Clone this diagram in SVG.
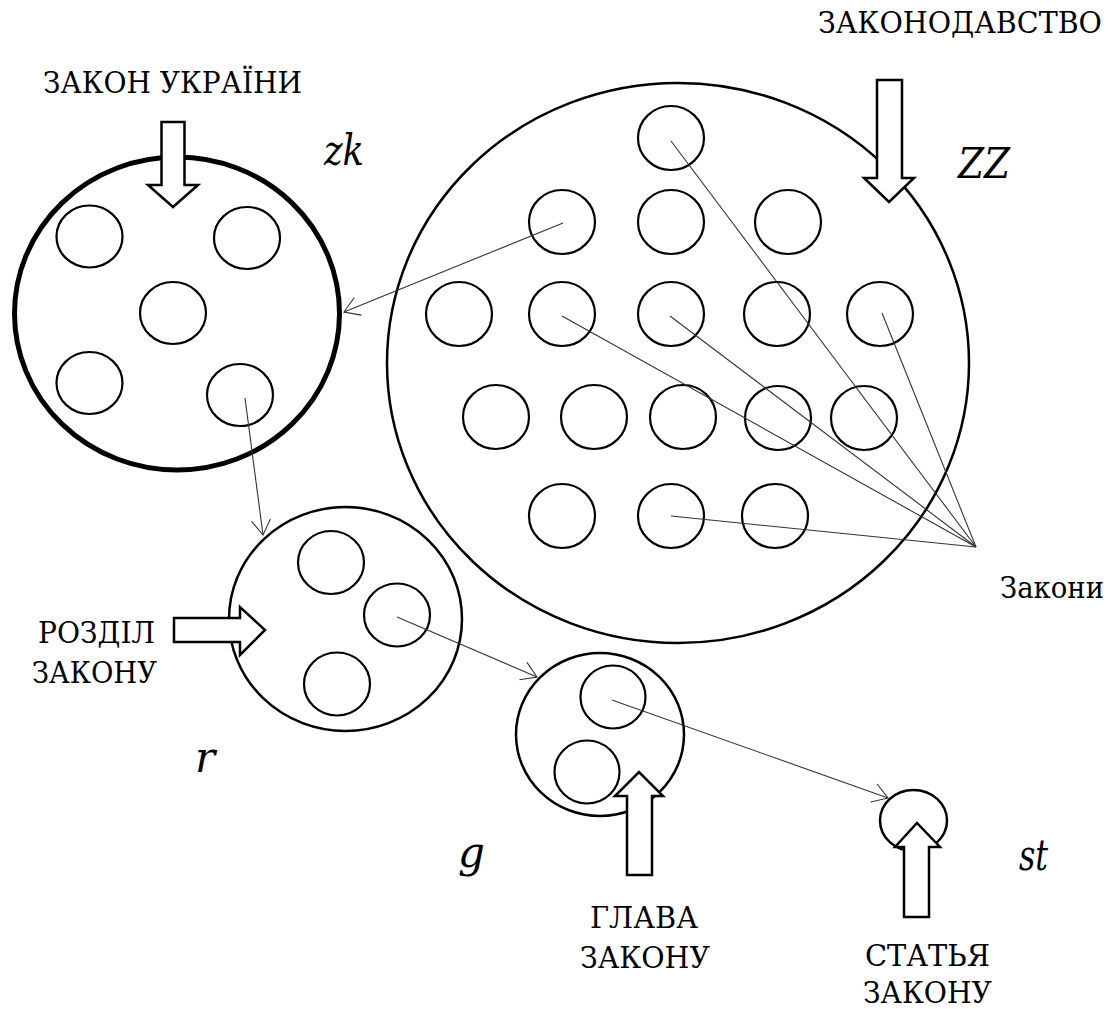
<svg xmlns="http://www.w3.org/2000/svg" width="1111" height="1009" viewBox="0 0 1111 1009">
  <defs>
    <style>
      .bg { fill: #ffffff; }
      .outer { fill: none; stroke: #000; stroke-width: 2.5; }
      .outer-bold { fill: none; stroke: #000; stroke-width: 5; }
      .item { fill: none; stroke: #000; stroke-width: 2.2; }
      .link { fill: none; stroke: #333; stroke-width: 1.1; }
      .block { fill: #fff; stroke: #000; stroke-width: 2.5; stroke-linejoin: miter; }
      .label { font-family: "DejaVu Serif", "Liberation Serif", serif; font-size: 29px; fill: #000; }
      .mid { text-anchor: middle; }
      .sym { font-family: "DejaVu Serif", "Liberation Serif", serif; font-size: 42px; font-style: italic; fill: #000; }
    </style>
    <marker id="open" markerUnits="userSpaceOnUse" markerWidth="24" markerHeight="24" viewBox="-20 -12 22 24" refX="0" refY="0" orient="auto">
      <path d="M-15,-9.5 L0,0 L-15,9.5" fill="none" stroke="#333" stroke-width="1.1"/>
    </marker>
  </defs>

  <rect class="bg" x="0" y="0" width="1111" height="1009"/>

  <!-- ZZ: the whole body of legislation -->
  <g id="node-zz">
    <ellipse class="outer" cx="678" cy="363" rx="291" ry="280"/>
    <ellipse class="item" cx="671" cy="138" rx="33" ry="32"/>
    <ellipse class="item" cx="562" cy="222" rx="33" ry="32"/>
    <ellipse class="item" cx="671" cy="222" rx="33" ry="32"/>
    <ellipse class="item" cx="788" cy="222" rx="33" ry="32"/>
    <ellipse class="item" cx="459" cy="314" rx="33" ry="32"/>
    <ellipse class="item" cx="562" cy="314" rx="33" ry="32"/>
    <ellipse class="item" cx="671" cy="314" rx="33" ry="32"/>
    <ellipse class="item" cx="777" cy="314" rx="33" ry="32"/>
    <ellipse class="item" cx="880" cy="314" rx="33" ry="32"/>
    <ellipse class="item" cx="496" cy="417" rx="33" ry="32"/>
    <ellipse class="item" cx="594" cy="417" rx="33" ry="32"/>
    <ellipse class="item" cx="683" cy="417" rx="33" ry="32"/>
    <ellipse class="item" cx="778" cy="418" rx="33" ry="32"/>
    <ellipse class="item" cx="864" cy="418" rx="33" ry="32"/>
    <ellipse class="item" cx="562" cy="516" rx="33" ry="32"/>
    <ellipse class="item" cx="671" cy="516" rx="33" ry="32"/>
    <ellipse class="item" cx="775" cy="516" rx="33" ry="32"/>
    <text class="sym" x="958" y="178" textLength="52" lengthAdjust="spacingAndGlyphs">ZZ</text>
  </g>

  <!-- zk: a single law -->
  <g id="node-zk">
    <ellipse class="outer-bold" cx="177" cy="313.5" rx="162.5" ry="156.5"/>
    <ellipse class="item" cx="89.5" cy="236.5" rx="33" ry="31"/>
    <ellipse class="item" cx="247" cy="238" rx="33" ry="31"/>
    <ellipse class="item" cx="173" cy="313" rx="33" ry="31"/>
    <ellipse class="item" cx="89.5" cy="383" rx="33" ry="31"/>
    <ellipse class="item" cx="240" cy="395" rx="33" ry="31"/>
    <text class="sym" x="324" y="165" textLength="40" lengthAdjust="spacingAndGlyphs">zk</text>
  </g>

  <!-- r: section of a law -->
  <g id="node-r">
    <ellipse class="outer" cx="345.5" cy="619" rx="116.5" ry="112"/>
    <ellipse class="item" cx="331" cy="562.5" rx="33" ry="31.5"/>
    <ellipse class="item" cx="397" cy="615" rx="33" ry="31.5"/>
    <ellipse class="item" cx="337" cy="684" rx="33" ry="31.5"/>
    <text class="sym" x="195" y="772">r</text>
  </g>

  <!-- g: chapter of a law -->
  <g id="node-g">
    <ellipse class="outer" cx="600" cy="734.5" rx="84" ry="81.5"/>
    <ellipse class="item" cx="613" cy="697" rx="32.5" ry="31.5"/>
    <ellipse class="item" cx="587" cy="772" rx="32.5" ry="31.5"/>
    <text class="sym" x="458" y="867">g</text>
  </g>

  <!-- st: article of a law -->
  <g id="node-st">
    <ellipse class="outer" cx="913.5" cy="820.5" rx="33.5" ry="30.5"/>
    <text class="sym" x="1019" y="870" textLength="29" lengthAdjust="spacingAndGlyphs">st</text>
  </g>

  <!-- thin connectors -->
  <g id="connectors">
    <line class="link" x1="563" y1="223" x2="344" y2="312" marker-end="url(#open)"/>
    <line class="link" x1="245" y1="398" x2="263" y2="535" marker-end="url(#open)"/>
    <line class="link" x1="397" y1="617" x2="537" y2="677" marker-end="url(#open)"/>
    <line class="link" x1="612" y1="700" x2="888" y2="798" marker-end="url(#open)"/>
    <line class="link" x1="671" y1="141" x2="976" y2="547"/>
    <line class="link" x1="562" y1="316" x2="976" y2="547"/>
    <line class="link" x1="670" y1="316" x2="976" y2="547"/>
    <line class="link" x1="882" y1="313" x2="976" y2="547"/>
    <line class="link" x1="671" y1="516" x2="976" y2="547"/>
  </g>

  <!-- block arrows with their captions -->
  <g id="label-zakon-ukrainy">
    <text class="label" x="43" y="93" textLength="259" lengthAdjust="spacingAndGlyphs">ЗАКОН УКРАЇНИ</text>
    <polygon class="block" points="161.5,122 184.5,122 184.5,185 198,185 173,207 148,185 161.5,185"/>
  </g>

  <g id="label-zakonodavstvo">
    <text class="label" x="818" y="33" textLength="284" lengthAdjust="spacingAndGlyphs">ЗАКОНОДАВСТВО</text>
    <polygon class="block" points="877,80 902,80 902,178 914,178 889,202 864,178 877,178"/>
  </g>

  <g id="label-zakony">
    <text class="label" x="1000" y="598" textLength="104" lengthAdjust="spacingAndGlyphs">Закони</text>
  </g>

  <g id="label-rozdil">
    <text class="label" x="38" y="643" textLength="117" lengthAdjust="spacingAndGlyphs">РОЗДІЛ</text>
    <text class="label" x="32" y="683" textLength="125" lengthAdjust="spacingAndGlyphs">ЗАКОНУ</text>
    <polygon class="block" points="174,618 240,618 240,607 265,630 240,655 240,642 174,642"/>
  </g>

  <g id="label-glava">
    <polygon class="block" points="627,875 627,796 615,796 639,772 663,796 652,796 652,875"/>
    <text class="label" x="590" y="928" textLength="108" lengthAdjust="spacingAndGlyphs">ГЛАВА</text>
    <text class="label" x="580" y="968" textLength="130" lengthAdjust="spacingAndGlyphs">ЗАКОНУ</text>
  </g>

  <g id="label-stattia">
    <polygon class="block" points="904,917 904,847 895,847 917,823 940,847 929,847 929,917"/>
    <text class="label" x="865" y="966" textLength="125" lengthAdjust="spacingAndGlyphs">СТАТЬЯ</text>
    <text class="label" x="863" y="1003" textLength="129" lengthAdjust="spacingAndGlyphs">ЗАКОНУ</text>
  </g>
</svg>
